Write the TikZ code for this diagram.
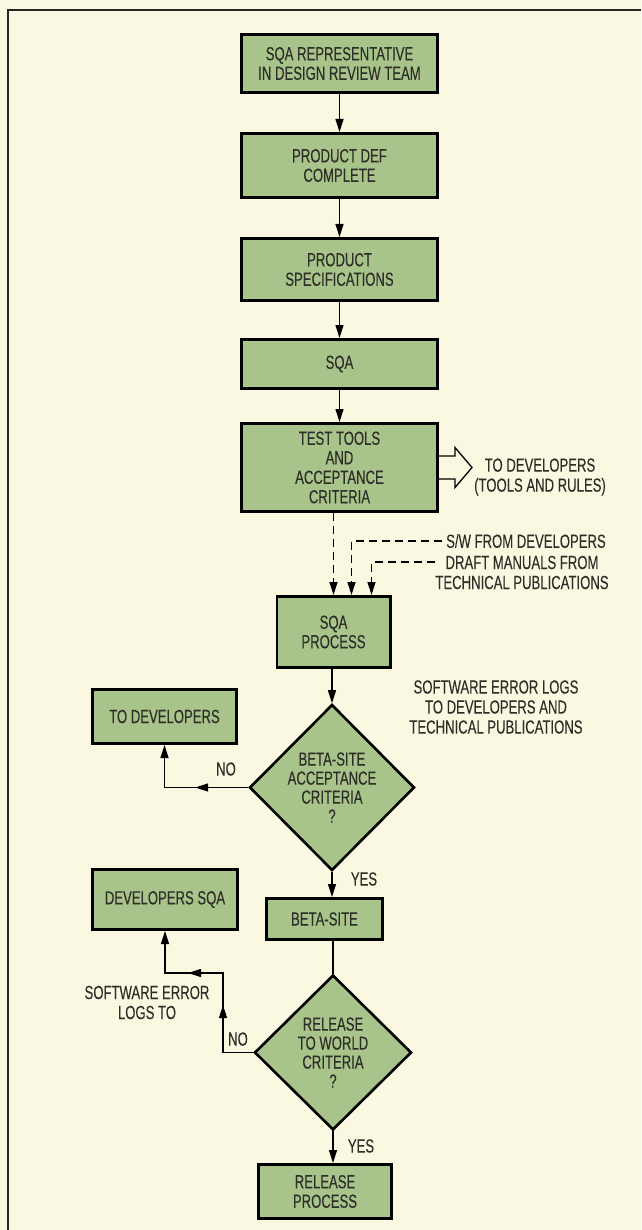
\documentclass[tikz,border=0pt]{standalone}
\usepackage{fontspec}
\setmainfont{Liberation Sans}[FakeStretch=0.69, FakeBold=0.2]
\usepackage{xcolor}
\usepackage{tikz}
\usetikzlibrary{arrows.meta, positioning, shapes.geometric, calc, decorations.markings}

\definecolor{paper}{HTML}{FBF8E2}
\definecolor{boxgreen}{HTML}{A9C48A}
\definecolor{ink}{HTML}{2E2E28}

\begin{document}
\begin{tikzpicture}[
  x=1pt, y=-1pt,
  node distance=38pt,
  stepbox/.style={rectangle, draw=black, fill=boxgreen, line width=2.6pt, text=ink, font=\fontsize{19}{19.5}\selectfont, align=center, inner sep=2pt},
  decision/.style={diamond, draw=black, fill=boxgreen, line width=2.6pt, text=ink, font=\fontsize{19}{19}\selectfont, align=center, inner sep=0pt},
  lbl/.style={text=ink, font=\fontsize{19}{20}\selectfont, align=center, inner sep=0pt},
  flow/.style={-{Triangle[length=13pt, width=8pt]}, line width=1.2pt},
  dashline/.style={flow, dash pattern=on 8pt off 5pt},
  hollow/.style={draw=black, fill=paper, line width=1.3pt, line join=miter}
]
\useasboundingbox (0,0) rectangle (641,1230);
\fill[paper] (0,0) rectangle (641,1230);
% frame
\draw[line width=2.2pt, black!85] (641,10) -- (8,10) -- (8,1230);

% main column
\node[stepbox, minimum width=196.4pt, minimum height=58.4pt] (rep) at (339.5,63.5) {SQA REPRESENTATIVE\\IN DESIGN REVIEW TEAM};
\node[stepbox, minimum width=196.4pt, minimum height=64.4pt, below=38pt of rep] (defc) {PRODUCT DEF\\COMPLETE};
\node[stepbox, minimum width=196.4pt, minimum height=62.4pt, below=38pt of defc] (spec) {PRODUCT\\SPECIFICATIONS};
\node[stepbox, minimum width=196.4pt, minimum height=49.4pt, below=36pt of spec] (sqa) {SQA};
\node[stepbox, minimum width=196.4pt, minimum height=88.4pt, below=32pt of sqa] (tools) {TEST TOOLS\\AND\\ACCEPTANCE\\CRITERIA};
\node[stepbox, minimum width=113.4pt, minimum height=71.4pt] (proc) at (333.5,632) {SQA\\PROCESS};
\node[decision, minimum width=165pt, minimum height=166pt] (accept) at (332,787.5) {BETA-SITE\\ACCEPTANCE\\CRITERIA\\?};
\node[stepbox, minimum width=116.4pt, minimum height=41.4pt] (beta) at (324.5,919) {BETA-SITE};
\node[decision, minimum width=157pt, minimum height=155pt] (world) at (333,1052.5) {RELEASE\\TO WORLD\\CRITERIA\\?};
\node[stepbox, minimum width=133.4pt, minimum height=54.4pt] (release) at (325,1191.5) {RELEASE\\PROCESS};

% side boxes
\node[stepbox, minimum width=144.4pt, minimum height=54.4pt] (todev) at (164.5,716.5) {TO DEVELOPERS};
\node[stepbox, minimum width=145.4pt, minimum height=60.4pt] (devsqa) at (165,899.5) {DEVELOPERS SQA};

\draw[flow] (rep) -- (defc);
\draw[flow] (defc) -- (spec);
\draw[flow] (spec) -- (sqa);
\draw[flow] (sqa) -- (tools);

% tools and rules handed out
\draw[hollow] ($(tools.east)+(0,-11.5)$) -- ++(16,0) -- ++(0,-8.5) -- ($(tools.east)+(33,0)$)
  -- ($(tools.east)+(16,20)$) -- ++(0,-8.5) -- ($(tools.east)+(0,11.5)$);
\node[lbl] (rules) at (540,477) {TO DEVELOPERS\\(TOOLS AND RULES)};

% inputs to the SQA process
\coordinate (swend) at (442,541);
\coordinate (draftend) at (435,562);
\node[lbl, anchor=west] (swlbl) at (446,541) {S/W FROM DEVELOPERS};
\node[lbl] (draftlbl) at (522,572.5) {DRAFT MANUALS FROM\\TECHNICAL PUBLICATIONS};
\draw[dashline] (tools.south -| proc.north) -- (proc.north);
\draw[dashline] (swend) -| ([xshift=18pt]proc.north);
\draw[dashline] (draftend) -| ([xshift=38pt]proc.north);

\draw[flow] (proc.south -| accept.north) -- (accept.north);
\node[lbl] (errlogs) at (496,707) {SOFTWARE ERROR LOGS\\TO DEVELOPERS AND\\TECHNICAL PUBLICATIONS};

% beta-site decision
\draw[flow, postaction={decorate}, decoration={markings, mark=at position 0.42 with {\arrow{Triangle[length=13pt, width=8pt]}}}]
  (accept.west) -| (todev.south);
\node[lbl] (no1) at (226,769) {NO};
\draw[flow] (accept.south) -- (accept.south |- beta.north);
\node[lbl] (yes1) at (364,879) {YES};

\draw[line width=1.2pt] (beta.south -| world.north) -- (world.north);

% release decision
\coordinate (nobend) at (223,973);
\draw[flow, postaction={decorate}, decoration={markings,
    mark=at position 0.37 with {\arrow{Triangle[length=13pt, width=8pt]}},
    mark=at position 0.69 with {\arrow{Triangle[length=13pt, width=8pt]}}}]
  (world.west) -| (nobend) -| (devsqa.south);
\node[lbl] (no2) at (238,1039) {NO};
\node[lbl] (errto) at (147,1002.5) {SOFTWARE ERROR\\LOGS TO};
\draw[flow] (world.south) -- (world.south |- release.north);
\node[lbl] (yes2) at (361,1146) {YES};
\end{tikzpicture}
\end{document}
